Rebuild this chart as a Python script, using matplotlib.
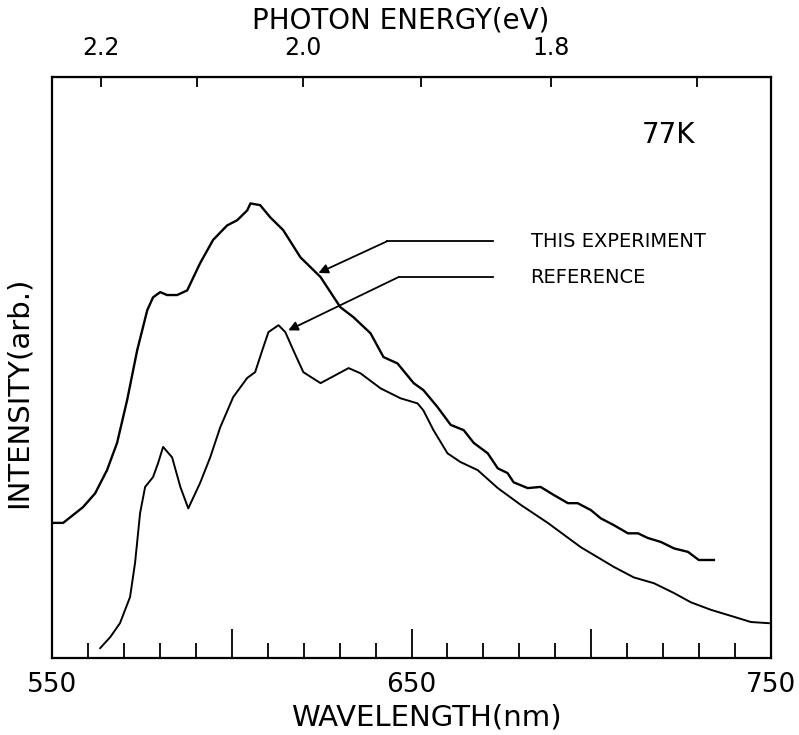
import matplotlib
matplotlib.use("Agg")
import matplotlib.pyplot as plt
import numpy as np

# ---- data ----
exp_wl = [550.3, 553.1, 558.6, 562.0, 565.3, 568.1, 570.9, 573.7, 576.5, 578.1,
          580.1, 582.0, 584.8, 587.6, 591.2, 594.8, 598.7, 601.5, 604.3, 605.2,
          607.9, 610.7, 614.3, 619.1, 624.7, 630.2, 633.8, 638.6, 642.2, 646.1,
          650.6, 653.3, 657.2, 660.9, 664.5, 667.3, 671.2, 674.0, 676.7, 678.4,
          682.3, 685.9, 689.6, 693.5, 696.2, 699.9, 702.6, 706.3, 710.2, 713.0,
          715.7, 719.4, 723.0, 726.9, 729.9, 734.1]
exp_int = [22.8, 22.8, 25.5, 27.9, 31.9, 36.6, 44.0, 52.6, 59.5, 61.7,
           62.6, 62.1, 62.1, 62.9, 67.6, 71.6, 74.1, 75.0, 76.7, 77.9,
           77.6, 75.5, 73.3, 68.6, 65.2, 60.0, 58.3, 55.5, 51.4, 50.3,
           46.9, 45.7, 42.8, 39.7, 38.8, 36.6, 34.8, 32.2, 31.4, 29.8,
           28.8, 29.0, 27.6, 26.2, 26.2, 25.0, 23.6, 22.4, 21.0, 21.0,
           20.2, 19.5, 18.4, 17.8, 16.4, 16.4]

ref_wl = [563.4, 566.2, 568.9, 571.7, 573.1, 574.5, 575.9, 578.1, 579.5, 580.9,
          583.4, 585.7, 587.9, 591.2, 594.0, 596.8, 600.4, 604.3, 606.5, 608.5,
          610.2, 613.0, 614.9, 617.1, 619.9, 624.7, 627.4, 632.5, 635.8, 641.4,
          646.9, 651.7, 653.3, 656.1, 660.0, 663.6, 668.4, 674.0, 680.4, 687.9,
          697.1, 706.3, 711.8, 717.4, 723.0, 727.7, 733.3, 739.7, 744.4, 749.4]
ref_int = [1.2, 3.1, 5.5, 10.0, 15.9, 24.5, 29.0, 30.7, 33.1, 35.9,
           34.1, 29.0, 25.3, 29.7, 34.1, 39.3, 44.5, 47.8, 48.8, 52.6,
           55.7, 56.9, 55.7, 52.6, 48.8, 46.9, 47.8, 49.5, 48.6, 46.0,
           44.3, 43.4, 42.2, 38.8, 34.8, 33.3, 31.9, 28.8, 25.9, 22.8,
           18.6, 15.2, 13.4, 12.4, 10.7, 9.1, 7.8, 6.6, 5.7, 5.5]

series_labels = ["THIS EXPERIMENT", "REFERENCE"]
x_major = [550, 600, 650, 700, 750]
x_major_labels = ["550", "", "650", "", "750"]
x_minor = list(range(550, 751, 10))
e_ticks = [2.2, 2.1, 2.0, 1.9, 1.8, 1.7]
e_labels = ["2.2", "", "2.0", "", "1.8", ""]

plt.rcParams['font.family'] = ['DejaVu Sans']

fig = plt.figure(figsize=(7.99, 7.35), dpi=100)
ax = fig.add_axes([0.0651, 0.1048, 0.8999, 0.7904])

ax.plot(exp_wl, exp_int, color='black', lw=1.7)
ax.plot(ref_wl, ref_int, color='black', lw=1.4)

ax.set_xlim(550, 750)
ax.set_ylim(-0.5, 99.7)
ax.set_yticks([])

ax.set_xticks(x_major)
ax.set_xticklabels(x_major_labels, fontsize=19)
ax.set_xticks(x_minor, minor=True)
ax.tick_params(axis='x', which='major', direction='in', length=21, width=1.3, pad=10)
ax.tick_params(axis='x', which='minor', direction='in', length=11, width=1.3)
ax.set_xlabel("WAVELENGTH(nm)", fontsize=21)
ax.xaxis.set_label_coords(0.52, -0.079)
ax.set_ylabel("INTENSITY(arb.)", fontsize=21)
ax.yaxis.set_label_coords(-0.027, 0.458)

for s in ax.spines.values():
    s.set_linewidth(1.6)

conv = 1239.84
sec = ax.secondary_xaxis('top', functions=(lambda x: conv / x, lambda e: conv / e))
sec.set_xticks(e_ticks)
sec.set_xticklabels(e_labels, fontsize=17)
sec.tick_params(axis='x', direction='in', length=7, width=1.3, pad=12)
sec.xaxis.set_minor_locator(matplotlib.ticker.NullLocator())
ax.text(0.485, 1.083, "PHOTON ENERGY(eV)", fontsize=20, ha='center',
        va='baseline', transform=ax.transAxes)

# annotations with leader lines
ax.plot([672.8, 643.3], [71.4, 71.4], color='black', lw=1.3)
ax.annotate("", xy=(624.1, 65.9), xytext=(643.3, 71.4),
            arrowprops=dict(arrowstyle='-|>', color='black', lw=1.3,
                            mutation_scale=14, shrinkA=0, shrinkB=0))
ax.plot([672.8, 646.4], [65.2, 65.2], color='black', lw=1.3)
ax.annotate("", xy=(615.7, 56.0), xytext=(646.4, 65.2),
            arrowprops=dict(arrowstyle='-|>', color='black', lw=1.3,
                            mutation_scale=14, shrinkA=0, shrinkB=0))
ax.text(683.1, 71.4, series_labels[0], fontsize=14, va='center', ha='left')
ax.text(683.1, 65.1, series_labels[1], fontsize=14, va='center', ha='left')
ax.text(721.5, 89.7, "77K", fontsize=20, va='center', ha='center')

fig.savefig("out.png", dpi=100)
